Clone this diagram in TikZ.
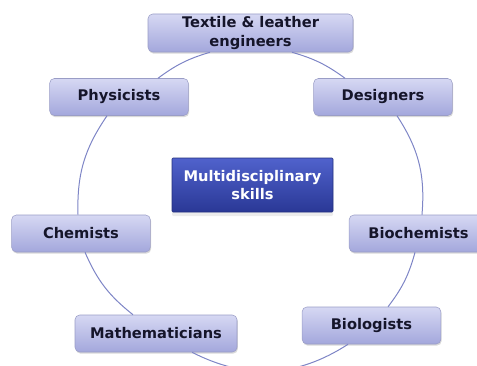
\documentclass[tikz,border=0pt]{standalone}
\usepackage{fontspec}
\setmainfont{DejaVu Sans}
\usepackage{tikz}
\usetikzlibrary{shadows}
\definecolor{boxtop}{HTML}{D6D8F3}
\definecolor{boxbottom}{HTML}{A3A7DC}
\definecolor{boxline}{HTML}{9A9DC6}
\definecolor{hubtop}{HTML}{5062CC}
\definecolor{hubbottom}{HTML}{2A3896}
\definecolor{hubline}{HTML}{23307E}
\definecolor{ringline}{HTML}{7E85C6}
\definecolor{labeltext}{HTML}{15152A}
\tikzset{
% Two box styles: the skill boxes round the ring and the hub in the middle
skill box/.style={rectangle,rounded corners=3.5pt,draw=boxline,line width=0.4pt,
  top color=boxtop,bottom color=boxbottom,text=labeltext,
  minimum width=104pt,minimum height=27.75pt,inner sep=1pt,align=center,
  font=\fontsize{11}{14}\selectfont\bfseries,
  drop shadow={opacity=0.3,shadow xshift=0.6pt,shadow yshift=-1.2pt}},
hub box/.style={rectangle,rounded corners=0.8pt,draw=hubline,line width=0.4pt,
  top color=hubtop,bottom color=hubbottom,text=white,
  minimum width=120.75pt,minimum height=40.5pt,inner sep=1pt,align=center,
  font=\fontsize{11}{13}\selectfont\bfseries,
  drop shadow={opacity=0.15,shadow xshift=0pt,shadow yshift=-3pt}},
ring/.style={draw=ringline,line width=0.75pt}
}

\begin{document}
\begin{tikzpicture}[x=0.75pt,y=0.75pt]
\useasboundingbox (0,0) rectangle (477,365);
\node[skill box,minimum width=153.75pt,minimum height=28.5pt] (tex) at (250.5,332) {Textile \& leather\\engineers};
\node[skill box] (phys) at (119,268) {Physicists};
\node[skill box] (des) at (383,268) {Designers};
\node[hub box] (hub) at (252.5,180) {Multidisciplinary\\skills};
\node[skill box] (chem) at (81,131.5) {Chemists};
\node[skill box] (biochem) at (418.5,131.5) {Biochemists};
\node[skill box,minimum width=121.5pt] (math) at (156,31.5) {Mathematicians};
\node[skill box] (bio) at (371.5,39.5) {Biologists};

% ring pieces, from box edge to box edge
\path [ring] ([xshift=-30.4pt]tex.south) edge[bend right=10] ([xshift=29.25pt]phys.north);
\path [ring] ([xshift=-9pt]phys.south) edge[bend right=18] ([xshift=-2.25pt]chem.north);
\path [ring] ([xshift=3pt]chem.south) edge[bend right=14] ([xshift=-17.25pt]math.north);
\path [ring] ([xshift=27pt]math.south) edge[bend right=30] ([xshift=-17.6pt]bio.south);
\path [ring] ([xshift=12.4pt]bio.north) edge[bend right=11] ([xshift=-2.6pt]biochem.south);
\path [ring] ([xshift=2.6pt]biochem.north) edge[bend right=19] ([xshift=10.5pt]des.south);
\path [ring] ([xshift=-28.5pt]des.north) edge[bend right=10] ([xshift=31.1pt]tex.south);
\end{tikzpicture}
\end{document}
